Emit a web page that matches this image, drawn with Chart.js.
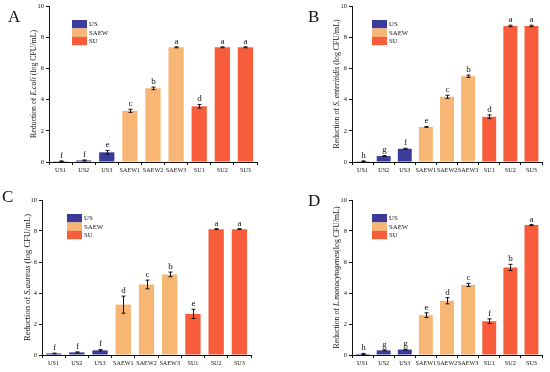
<!DOCTYPE html>
<html><head><meta charset="utf-8">
<script src="https://cdn.jsdelivr.net/npm/chart.js@4.4.1/dist/chart.umd.min.js"></script>
<style>
html,body{margin:0;padding:0;background:#fff;}
#wrap{position:relative;width:550px;height:372px;overflow:hidden;}
.p{position:absolute;width:275px;height:186px;}
.p canvas{width:275px;height:186px;}
.lt{position:absolute;font-family:"Liberation Serif",serif;font-size:17px;color:#111;line-height:1;}
</style></head>
<body><div id="wrap">
<div class="p" style="left:0;top:0"><canvas id="cA"></canvas></div>
<div class="p" style="left:275px;top:0"><canvas id="cB"></canvas></div>
<div class="p" style="left:0;top:186px"><canvas id="cC"></canvas></div>
<div class="p" style="left:275px;top:186px"><canvas id="cD"></canvas></div>
<div class="lt" style="left:8px;top:8px">A</div>
<div class="lt" style="left:308px;top:8px">B</div>
<div class="lt" style="left:2px;top:188px">C</div>
<div class="lt" style="left:308px;top:192px">D</div>
</div>
<script>
const categories = ["US1","US2","US3","SAEW1","SAEW2","SAEW3","SU1","SU2","SU3"];
const groups = ["US","US","US","SAEW","SAEW","SAEW","SU","SU","SU"];
const groupNames = ["US","SAEW","SU"];
const yTicks = [0,2,4,6,8,10];

const valuesA = [0.05,0.10,0.62,3.28,4.72,7.35,3.57,7.35,7.35];
const errorsA = [0.02,0.03,0.12,0.10,0.08,0.03,0.12,0.03,0.03];
const lettersA = ["f","f","e","c","b","a","d","a","a"];

const valuesB = [0.05,0.38,0.85,2.25,4.18,5.50,2.90,8.72,8.72];
const errorsB = [0.02,0.03,0.03,0.03,0.10,0.07,0.12,0.05,0.05];
const lettersB = ["h","g","f","e","c","b","d","a","a"];

const valuesC = [0.10,0.17,0.30,3.25,4.55,5.20,2.65,8.12,8.12];
const errorsC = [0.02,0.03,0.05,0.55,0.28,0.15,0.30,0.03,0.03];
const lettersC = ["f","f","f","d","c","b","e","a","a"];

const valuesD = [0.07,0.30,0.35,2.57,3.50,4.52,2.18,5.65,8.38];
const errorsD = [0.03,0.03,0.03,0.15,0.20,0.10,0.15,0.20,0.03];
const lettersD = ["h","g","g","e","d","c","f","b","a"];

const colorOf = {US:"#3b3b9c", SAEW:"#f7b673", SU:"#f75d3a"};
const FONT = "'Liberation Serif', serif";

function makeChart(id, values, errors, letters, titleParts, cfg){
  const plugin = {
    id:'extras'+id,
    afterDatasetsDraw(chart){
      const ctx = chart.ctx, x = chart.scales.x, y = chart.scales.y, ca = chart.chartArea;
      ctx.save();
      ctx.strokeStyle = "#111"; ctx.lineWidth = 1; ctx.fillStyle = "#111";
      ctx.font = "9px " + FONT; ctx.textAlign = "center"; ctx.textBaseline = "bottom";
      values.forEach((v,i)=>{
        const cx = Math.round(x.getPixelForValue(i)) + 0.5;
        const yt = y.getPixelForValue(v + errors[i]);
        const yb = y.getPixelForValue(Math.max(0, v - errors[i]));
        ctx.beginPath();
        ctx.moveTo(cx, yt); ctx.lineTo(cx, yb);
        ctx.moveTo(cx-2, yt); ctx.lineTo(cx+2, yt);
        ctx.moveTo(cx-2, yb); ctx.lineTo(cx+2, yb);
        ctx.stroke();
        ctx.fillText(letters[i], cx, yt - 1);
      });
      const lx = ca.left + cfg.legX, ly = ca.top + 14, sw = 15, sh = 8.4;
      ctx.textAlign = "left"; ctx.textBaseline = "middle"; ctx.font = "6.8px " + FONT;
      groupNames.forEach((g,k)=>{
        ctx.fillStyle = colorOf[g];
        ctx.fillRect(lx, ly + k*sh, sw, sh);
        ctx.fillStyle = "#111";
        ctx.fillText(g, lx + sw + 2, ly + k*sh + sh/2 + 0.5);
      });
      ctx.translate(cfg.titleX, (ca.top + ca.bottom)/2);
      ctx.rotate(-Math.PI/2);
      const fs = cfg.titleSize + "px " + FONT;
      let total = 0;
      titleParts.forEach(p=>{ ctx.font = (p[1]?"italic ":"") + fs; total += ctx.measureText(p[0]).width; });
      let px = -total/2;
      ctx.fillStyle = "#111"; ctx.textBaseline = "middle";
      titleParts.forEach(p=>{ ctx.font = (p[1]?"italic ":"") + fs; ctx.fillText(p[0], px, 0); px += ctx.measureText(p[0]).width; });
      ctx.restore();
    }
  };
  return new Chart(document.getElementById(id), {
    type:'bar',
    data:{labels:categories, datasets:[{data:values, backgroundColor:groups.map(g=>colorOf[g]), borderWidth:0, barPercentage:0.66, categoryPercentage:1}]},
    options:{
      responsive:false, animation:false, devicePixelRatio:1,
      layout:{padding:{left:0, right:cfg.right, top:cfg.top, bottom:0}},
      plugins:{legend:{display:false}, tooltip:{enabled:false}},
      scales:{
        x:{
          grid:{display:true, drawOnChartArea:false, drawTicks:true, tickLength:3, tickColor:"#111"},
          border:{color:"#111", width:1},
          ticks:{color:"#111", font:{family:FONT, size:6.2}, padding:2, maxRotation:0, autoSkip:false},
          afterFit(s){ s.height = cfg.xh; }
        },
        y:{
          min:0, max:10,
          afterBuildTicks(s){ s.ticks = yTicks.map(v=>({value:v})); },
          grid:{display:true, drawOnChartArea:false, drawTicks:true, tickLength:3, tickColor:"#111"},
          border:{color:"#111", width:1},
          ticks:{color:"#111", font:{family:FONT, size:6.5}, padding:2},
          afterFit(s){ s.width = cfg.yw; }
        }
      }
    },
    plugins:[plugin]
  });
}
function setup(id){ const c=document.getElementById(id); c.width=275; c.height=186; }
["cA","cB","cC","cD"].forEach(setup);

makeChart("cA", valuesA, errorsA, lettersA,
  [["Reduction of ",false],["E.coli",true],[" (log CFU/mL)",false]],
  {right:18, top:6, xh:24, yw:49, legX:23, titleX:34, titleSize:7.8});
makeChart("cB", valuesB, errorsB, lettersB,
  [["Reduction of ",false],["S. enteritidis",true],[" (log CFU/mL)",false]],
  {right:8, top:6, xh:24, yw:77, legX:20, titleX:62, titleSize:7.8});
makeChart("cC", valuesC, errorsC, lettersC,
  [["Reduction of ",false],["S.aureus",true],[" (log CFU/mL)",false]],
  {right:24, top:14, xh:17, yw:42, legX:25, titleX:28, titleSize:8.5});
makeChart("cD", valuesD, errorsD, lettersD,
  [["Reduction of ",false],["L.monocytogenes",true],["(log CFU/mL)",false]],
  {right:8, top:14, xh:17, yw:77, legX:20, titleX:62, titleSize:7.8});
</script>
</body></html>
